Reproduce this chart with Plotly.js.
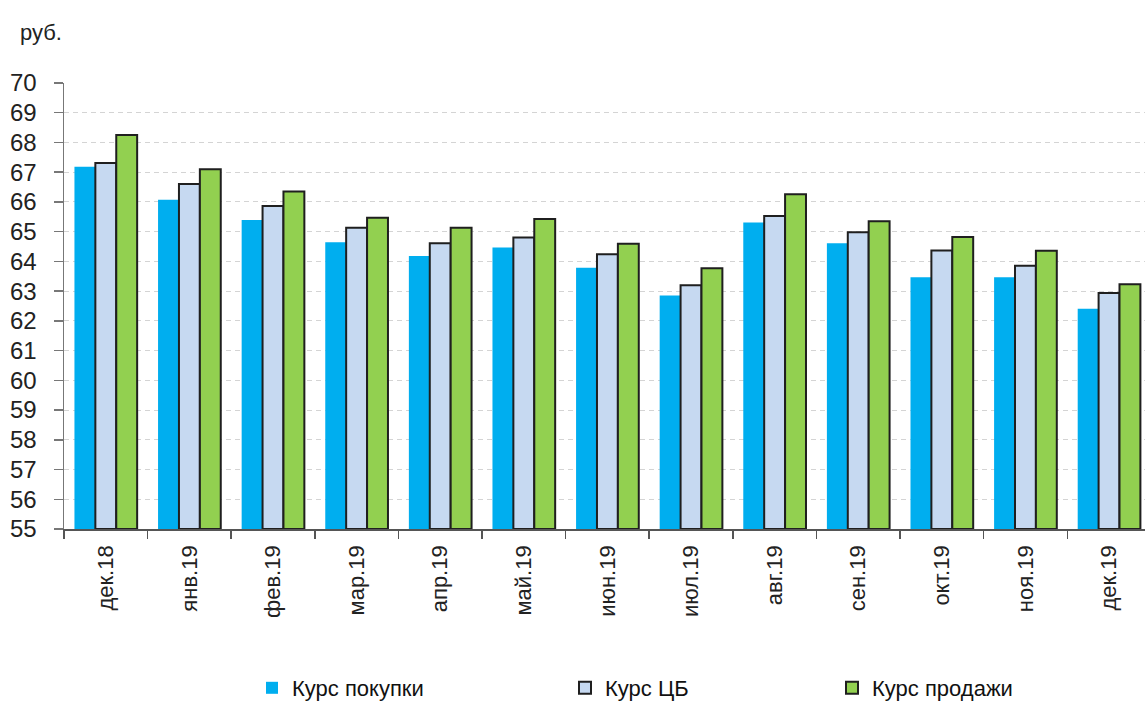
<!DOCTYPE html>
<html>
<head>
<meta charset="utf-8">
<script src="https://cdn.plot.ly/plotly-3.0.1.min.js"></script>
<style>
html,body{margin:0;padding:0;background:#fff;overflow:hidden;}
#chart{width:1145px;height:701px;}
</style>
</head>
<body>
<div id="chart"></div>
<script>
const months = ["дек.18","янв.19","фев.19","мар.19","апр.19","май.19","июн.19","июл.19","авг.19","сен.19","окт.19","ноя.19","дек.19"];
const buyRate = [67.18, 66.07, 65.39, 64.64, 64.18, 64.47, 63.79, 62.85, 65.31, 64.61, 63.47, 63.47, 62.41];
const cbRate  = [67.31, 66.60, 65.86, 65.13, 64.61, 64.80, 64.24, 63.20, 65.53, 64.98, 64.37, 63.85, 62.94];
const sellRate= [68.25, 67.10, 66.35, 65.47, 65.13, 65.43, 64.59, 63.77, 66.26, 65.35, 64.82, 64.36, 63.23];
const seriesNames = ["Курс покупки", "Курс ЦБ", "Курс продажи"];
const yTicks = [55,56,57,58,59,60,61,62,63,64,65,66,67,68,69,70];

const FONT = "'Liberation Sans Narrow', 'Arial Narrow', 'Liberation Sans', Arial, sans-serif";
const base = 55;

const traces = [
  {type:'bar', name:seriesNames[0], x:months, y:buyRate.map(v=>v-base), base:base,
   marker:{color:'#00AEEF', line:{width:0}}, legend:'legend'},
  {type:'bar', name:seriesNames[1], x:months, y:cbRate.map(v=>v-base), base:base,
   marker:{color:'#C6D9F1', line:{color:'#1f1f1f', width:2}}, legend:'legend2'},
  {type:'bar', name:seriesNames[2], x:months, y:sellRate.map(v=>v-base), base:base,
   marker:{color:'#92D050', line:{color:'#1f1f1f', width:2}}, legend:'legend3'}
];

const legCommon = {orientation:'h', xref:'container', yref:'container', yanchor:'middle', xanchor:'left',
  y:(701-688)/701, font:{family:FONT, size:22, color:'#111'}, bgcolor:'rgba(0,0,0,0)', borderwidth:0,
  itemwidth:30};

const layout = {
  width:1145, height:701,
  margin:{l:64, r:0, t:83, b:172, pad:0},
  paper_bgcolor:'#fff', plot_bgcolor:'#fff',
  barmode:'group', bargap:0.25, bargroupgap:0,
  font:{family:FONT, size:22, color:'#222'},
  showlegend:true,
  legend:Object.assign({}, legCommon, {x:252/1145}),
  legend2:Object.assign({}, legCommon, {x:565/1145}),
  legend3:Object.assign({}, legCommon, {x:832/1145}),
  xaxis:{type:'category', range:[-0.5, 12.43], tickangle:-90, ticks:'outside', tickson:'boundaries',
    ticklen:8, tickwidth:1.5, tickcolor:'#555', showline:true, linecolor:'#555', linewidth:1.5,
    showgrid:false, zeroline:false, tickfont:{family:FONT, size:22, color:'#222'}, ticklabelstandoff:6, fixedrange:true},
  yaxis:{range:[55,70], tickvals:yTicks, ticktext:yTicks.map(String), ticks:'outside', ticklen:9, tickwidth:1.5,
    tickcolor:'#777', showline:true, linecolor:'#777', linewidth:1.5, showgrid:true, gridcolor:'#d4d4d4',
    gridwidth:1, griddash:'5px,4px', zeroline:false, tickfont:{family:FONT, size:24, color:'#222'},
    ticklabelstandoff:12, fixedrange:true},
  annotations:[{text:'руб.', xref:'paper', yref:'paper', x:(18-64)/1081, y:(529-32)/446, xanchor:'left', yanchor:'middle',
    showarrow:false, font:{family:FONT, size:22, color:'#222'}}]
};

Plotly.newPlot('chart', traces, layout, {displayModeBar:false, staticPlot:true});
</script>
</body>
</html>
